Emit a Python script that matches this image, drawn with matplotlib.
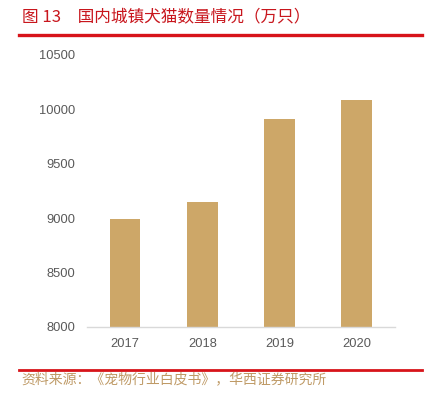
import matplotlib
matplotlib.use("Agg")
import matplotlib.pyplot as plt
from matplotlib.lines import Line2D

# 国内城镇犬猫数量（万只）
years = ["2017", "2018", "2019", "2020"]
counts = [8994, 9149, 9915, 10084]
yticks = [8000, 8500, 9000, 9500, 10000, 10500]

title = "图 13\u3000国内城镇犬猫数量情况（万只）"
source = "资料来源：《宠物行业白皮书》，华西证券研究所"

CJK = ["Noto Sans CJK SC", "DejaVu Sans"]
BAR = "#CDA768"
RED = "#D7141A"

fig = plt.figure(figsize=(4.32, 3.95), dpi=100)
ax = fig.add_axes([0.2007, 0.1729, 0.7137, 0.6879])

x = range(len(years))
ax.bar(x, counts, width=0.395, color=BAR, zorder=2)
ax.set_xlim(-0.5, len(years) - 0.5)
ax.set_ylim(8000, 10500)
ax.set_yticks(yticks)
ax.set_xticks(list(x))
ax.set_xticklabels(years)

for s in ("top", "right", "left"):
    ax.spines[s].set_visible(False)
ax.spines["bottom"].set_color("#D9D9D9")
ax.spines["bottom"].set_linewidth(1.0)
ax.tick_params(axis="both", length=0, labelsize=9.3, colors="#595959")
ax.tick_params(axis="y", pad=8)
ax.tick_params(axis="x", pad=8)
for lab in ax.get_xticklabels() + ax.get_yticklabels():
    lab.set_fontfamily("Liberation Sans")

fig.text(0.052, 0.957, title, color="#C8161D", fontsize=12,
         family=CJK, va="center", ha="left")
fig.add_artist(Line2D([0.044, 0.976], [0.912, 0.912], color=RED,
                      linewidth=2.4, transform=fig.transFigure))
fig.add_artist(Line2D([0.044, 0.976], [0.0625, 0.0625], color=RED,
                      linewidth=2.0, transform=fig.transFigure))
fig.text(0.05, 0.0405, source, color="#BF9A66", fontsize=10,
         family=CJK, va="center", ha="left")

fig.savefig("out.png", dpi=100)
